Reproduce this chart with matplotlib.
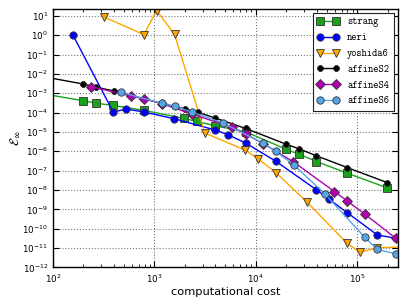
import matplotlib
matplotlib.use("Agg")
import matplotlib.pyplot as plt
from matplotlib.ticker import LogLocator, NullLocator, LogFormatterMathtext

strang_x = [79, 198, 266, 393, 794, 1967, 2624, 3971, 7925, 19780, 26540, 39640, 79400, 196800]
strang_y = [9.5e-4, 4.14e-4, 3.07e-4, 2.36e-4, 1.30e-4, 5.0e-5, 3.5e-5, 2.09e-5, 1.02e-5,
            1.30e-6, 7.16e-7, 2.96e-7, 7.41e-8, 1.29e-8]

neri_x = [158, 393, 527, 794, 1574, 3963, 5297, 7945, 15820, 39640, 52730, 79400, 157500, 239500]
neri_y = [1.0, 1.07e-4, 1.54e-4, 1.07e-4, 4.83e-5, 1.27e-5, 7.33e-6, 2.66e-6, 3.03e-7,
          1.01e-8, 3.33e-9, 6.75e-10, 4.72e-11, 3.18e-11]

yoshida6_x = [316, 789, 1052, 1581, 3150, 7890, 10590, 15740, 31790, 79400, 105900, 157400, 315000]
yoshida6_y = [8.97, 1.09, 19.0, 1.13, 8.77e-6, 1.15e-6, 3.99e-7, 7.98e-8, 2.42e-9,
              1.75e-11, 6.03e-12, 1.02e-11, 1.17e-11]

affineS2_x = [79, 199, 265, 399, 794, 1995, 2666, 3980, 7945, 19780, 26550, 39640, 79400, 196800]
affineS2_y = [7.33e-3, 3.03e-3, 2.07e-3, 1.33e-3, 5.13e-4, 1.54e-4, 1.05e-4, 5.25e-5, 1.52e-5,
              2.36e-6, 1.35e-6, 5.85e-7, 1.45e-7, 2.42e-8]

affineS4_x = [237, 590, 794, 1186, 2355, 5865, 7962, 11810, 23440, 59570, 79400, 118600, 239400]
affineS4_y = [2.20e-3, 7.24e-4, 5.25e-4, 2.89e-4, 8.45e-5, 1.71e-5, 7.78e-6, 2.51e-6, 2.86e-7,
              8.26e-9, 2.72e-9, 5.64e-10, 3.18e-11]

affineS6_x = [471, 1191, 1585, 2355, 4710, 11810, 15820, 23660, 47560, 118600, 157400, 239400]
affineS6_y = [1.11e-3, 3.0e-4, 2.09e-4, 1.07e-4, 2.92e-5, 2.66e-6, 9.77e-7, 2.0e-7, 6.5e-9,
              3.58e-11, 8.36e-12, 5.0e-12]

series = [
    ("strang", strang_x, strang_y, "#1aa31a", "s"),
    ("neri", neri_x, neri_y, "#0000ff", "o"),
    ("yoshida6", yoshida6_x, yoshida6_y, "#ffa500", "v"),
    ("affineS2", affineS2_x, affineS2_y, "#000000", "8"),
    ("affineS4", affineS4_x, affineS4_y, "#b000b0", "D"),
    ("affineS6", affineS6_x, affineS6_y, "#55a5e8", "o"),
]

fig = plt.figure(figsize=(4.07, 3.05), dpi=100)
ax = fig.add_axes([0.130, 0.1236, 0.847, 0.847])

for name, xs, ys, col, mk in series:
    ax.plot(xs, ys, color=col, marker=mk, markersize=5.3, markerfacecolor=col,
            markeredgecolor="#333333", markeredgewidth=0.6, linewidth=1.0, label=name)

ax.set_xscale("log")
ax.set_yscale("log")
ax.set_xlim(100, 2.5e5)
ax.set_ylim(1e-12, 23)

ax.yaxis.set_major_locator(LogLocator(base=10, numticks=30))
ax.yaxis.set_minor_locator(NullLocator())
ax.yaxis.set_major_formatter(LogFormatterMathtext())
ax.xaxis.set_major_locator(LogLocator(base=10, numticks=10))
ax.xaxis.set_minor_locator(LogLocator(base=10, subs=range(2, 10), numticks=10))

ax.tick_params(which="both", direction="in", top=True, right=True, labelsize=6.3)
ax.tick_params(which="major", length=4)
ax.tick_params(which="minor", length=2)
ax.grid(True, which="major", linestyle=":", color="#777777", linewidth=0.8)

for s in ax.spines.values():
    s.set_linewidth(1.0)

ax.set_xlabel("computational cost", fontsize=8.2, labelpad=2)
ax.set_ylabel(r"$\mathcal{E}_\infty$", fontsize=9, labelpad=0)

leg = ax.legend(loc="upper right", numpoints=2, fancybox=False, framealpha=1,
                edgecolor="#222222", prop={"family": "cmtt10", "size": 7.2},
                handlelength=2.2, borderaxespad=0.4, labelspacing=0.58,
                borderpad=0.45)
leg.get_frame().set_linewidth(0.8)

fig.savefig("out.png", dpi=100)
